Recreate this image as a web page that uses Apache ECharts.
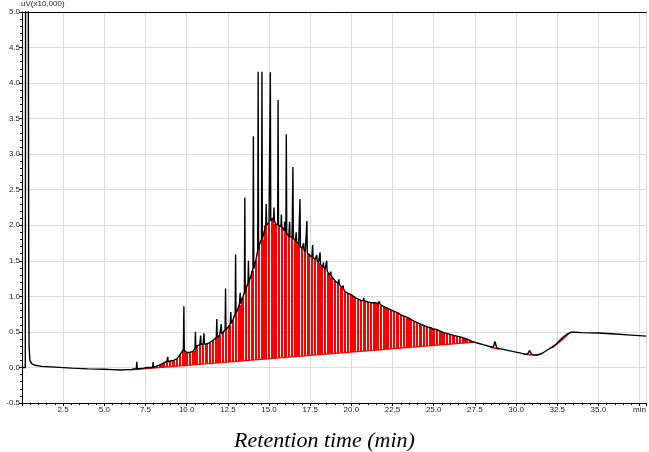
<!DOCTYPE html>
<html>
<head>
<meta charset="utf-8">
<script src="https://cdn.jsdelivr.net/npm/echarts@6/dist/echarts.min.js"></script>
<style>
html,body{margin:0;padding:0;background:#fff;}
#c{width:649px;height:452px;}
</style>
</head>
<body>
<div id="c"></div>
<script>
// ---- data (retention time in min, signal in uV x10,000) ----
const xTicks = [0, 2.5, 5.0, 7.5, 10.0, 12.5, 15.0, 17.5, 20.0, 22.5, 25.0, 27.5, 30.0, 32.5, 35.0, 37.5];
const yTicks = [-0.5, 0.0, 0.5, 1.0, 1.5, 2.0, 2.5, 3.0, 3.5, 4.0, 4.5, 5.0];

// trace before the hump (solvent peak + flat baseline)
const preTrace = [
  [0, 0.0], [0.2, 0.0], [0.22, 6.0], [0.38, 6.0], [0.41, 1.02], [0.43, 0.3],
  [0.48, 0.1], [0.6, 0.05], [0.8, 0.03], [1.2, 0.015], [2.0, 0.005], [3.0, -0.01],
  [4.0, -0.02], [5.0, -0.025], [5.5, -0.03], [6.0, -0.035], [6.4, -0.03]
];

// hump envelope (top of the red integrated area)
const hump = [
  [6.6,-0.03],[6.8,-0.02],[7.0,-0.02],[7.2,-0.015],[7.4,-0.01],[7.6,0.0],[7.8,0.0],
  [8.0,0.01],[8.2,0.02],[8.4,0.04],[8.6,0.06],[8.8,0.09],[9.0,0.09],[9.2,0.10],
  [9.4,0.12],[9.6,0.18],[9.8,0.25],[10.0,0.21],[10.2,0.21],[10.4,0.23],[10.6,0.30],
  [10.8,0.32],[11.0,0.33],[11.2,0.33],[11.4,0.35],[11.6,0.38],[11.8,0.42],[12.0,0.45],
  [12.2,0.49],[12.4,0.54],[12.6,0.59],[12.8,0.66],[13.0,0.78],[13.2,0.88],[13.4,0.98],
  [13.6,1.10],[13.8,1.22],[14.0,1.36],[14.2,1.50],[14.4,1.72],[14.6,1.80],[14.8,2.00],
  [15.0,2.04],[15.2,2.10],[15.4,2.02],[15.6,2.00],[15.8,1.97],[16.0,1.90],[16.2,1.84],
  [16.4,1.83],[16.6,1.78],[16.8,1.72],[17.0,1.67],[17.2,1.62],[17.4,1.60],[17.6,1.55],
  [17.8,1.52],[18.0,1.47],[18.2,1.43],[18.4,1.38],[18.6,1.33],[18.8,1.27],[19.0,1.22],
  [19.2,1.18],[19.4,1.12],[19.6,1.07],[19.8,1.04],[20.0,1.02],[20.2,0.99],[20.4,0.95],
  [20.6,0.94],[20.8,0.94],[21.0,0.92],[21.2,0.91],[21.4,0.91],[21.6,0.90],[21.8,0.87],
  [22.0,0.85],[22.2,0.83],[22.4,0.81],[22.6,0.79],[22.8,0.77],[23.0,0.74],[23.2,0.72],
  [23.4,0.70],[23.6,0.68],[23.8,0.65],[24.0,0.63],[24.2,0.61],[24.4,0.59],[24.6,0.57],
  [24.8,0.56],[25.0,0.54],[25.2,0.53],[25.4,0.51],[25.6,0.49],[25.8,0.48],[26.0,0.465],
  [26.2,0.45],[26.4,0.44],[26.6,0.43],[26.8,0.415],[27.0,0.40],[27.2,0.38],[27.4,0.36]
];

// integration baseline of the hump (start, end)
const humpBaseline = [[6.6, -0.035], [27.5, 0.355]];

// sharp peaks: [time, foot level, apex]
const peaks = [
  [6.97,-0.02,0.08],[7.96,0.0,0.075],[8.85,0.08,0.15],[9.83,0.24,0.86],
  [10.53,0.27,0.50],[10.85,0.32,0.45],[11.05,0.33,0.48],[11.83,0.42,0.68],
  [12.1,0.47,0.61],[12.36,0.53,1.11],[12.68,0.62,0.78],[12.97,0.76,1.59],
  [13.25,0.90,1.05],[13.53,1.05,2.39],[13.75,1.19,1.5],[14.05,1.39,3.25],
  [14.34,1.65,4.16],[14.57,1.80,4.16],[14.83,2.0,2.3],[15.08,2.06,4.15],
  [15.3,2.06,2.25],[15.55,2.0,3.76],[15.75,1.98,2.15],[15.95,1.92,2.05],
  [16.05,1.89,3.28],[16.25,1.84,2.05],[16.45,1.82,2.82],[16.65,1.77,1.9],
  [16.88,1.70,2.37],[17.1,1.65,1.75],[17.3,1.61,2.06],[17.65,1.54,1.72],
  [17.9,1.50,1.58],[18.1,1.45,1.62],[18.3,1.41,1.48],[18.5,1.36,1.5],
  [18.75,1.29,1.35],[19.24,1.17,1.24],[19.5,1.10,1.15],[19.9,1.03,1.06],
  [20.3,0.97,1.0],[20.75,0.94,0.98],[21.7,0.89,0.93],[22.1,0.84,0.86],
  [23.3,0.71,0.73]
];

// trace after the hump
const postTrace = [
  [27.7,0.34],[28.0,0.32],[28.4,0.295],[28.62,0.285],[28.72,0.365],[28.82,0.28],
  [29.0,0.265],[29.5,0.24],[30.0,0.215],[30.5,0.19],[30.7,0.185],[30.82,0.24],
  [30.95,0.18],[31.3,0.175],[31.6,0.2],[31.9,0.245],[32.2,0.29],[32.45,0.33],
  [32.6,0.37],[32.7,0.38],[32.85,0.425],[33.1,0.47],[33.35,0.495],[33.6,0.495],
  [34.0,0.49],[35.0,0.485],[36.0,0.47],[37.0,0.455],[37.9,0.44]
];

// small integration baselines of late peaks
const smallBase1 = [[28.45,0.285],[29.0,0.255]];
const smallBase2 = [[30.45,0.185],[31.3,0.172]];
const smallBase3 = [[32.2,0.28],[32.7,0.37],[33.2,0.475]];

// ---- build trace ----
const peakPts = [];
peaks.forEach(p => { peakPts.push([p[0]-0.025, p[1]], [p[0], p[2]], [p[0]+0.025, p[1]]); });
const mid = hump.concat(peakPts).sort((a,b)=>a[0]-b[0]);
const trace = preTrace.concat(mid, postTrace);

const chart = echarts.init(document.getElementById('c'), null, {renderer:'canvas'});
const txt = {color:'#222', fontSize:8, fontFamily:'Liberation Sans, Arial, sans-serif'};

chart.setOption({
  animation: false,
  backgroundColor: '#fff',
  title: {
    text: 'Retention time (min)', left: 'center', top: 425,
    textStyle: {fontFamily:'Liberation Serif, Times New Roman, serif', fontStyle:'italic', fontWeight:'normal', fontSize:22, color:'#000'}
  },
  grid: {left:22, right:0, top:11, bottom:49, containLabel:false},
  xAxis: [{
    type:'value', min:0, max:37.9, interval:2.5,
    axisLine:{show:true, onZero:false, lineStyle:{color:'#000', width:1}},
    axisTick:{show:true, length:3, lineStyle:{color:'#000'}},
    minorTick:{show:true, splitNumber:5, length:2, lineStyle:{color:'#000'}},
    splitLine:{show:true, lineStyle:{color:'#dadada', width:1}},
    axisLabel:{...txt, margin:3, showMaxLabel:false,
      formatter: v => { if (v === 0) return ''; if (Math.abs(v-37.5)<1e-6) return 'min'; return xTicks.indexOf(v) >= 0 ? v.toFixed(1) : ''; }}
  }, {
    type:'value', position:'top', min:0, max:37.9,
    axisLine:{show:true, onZero:false, lineStyle:{color:'#000', width:1}},
    axisTick:{show:false}, axisLabel:{show:false}, splitLine:{show:false}
  }],
  yAxis: {
    type:'value', min:-0.5, max:5.0, interval:0.5,
    name:'uV(x10,000)', nameLocation:'end', nameGap:0,
    nameTextStyle:{...txt, align:'left', verticalAlign:'bottom', padding:[0,0,-3,-1]},
    axisLine:{show:true, onZero:false, lineStyle:{color:'#000', width:1}},
    axisTick:{show:true, length:3, lineStyle:{color:'#000'}},
    minorTick:{show:true, splitNumber:5, length:2, lineStyle:{color:'#000'}},
    splitLine:{show:true, lineStyle:{color:'#dadada', width:1}},
    axisLabel:{...txt, margin:2, formatter: v => yTicks.indexOf(Math.round(v*10)/10) >= 0 ? v.toFixed(1) : ''}
  },
  series: [
    {
      type:'custom', data: hump, clip:true, silent:true, z:2,
      renderItem: function(params, api) {
        const p = api.coord([api.value(0), api.value(1)]);
        const b0 = api.coord(humpBaseline[0]);
        const b1 = api.coord(humpBaseline[1]);
        const f = (p[0]-b0[0])/(b1[0]-b0[0]);
        const yb = b0[1] + f*(b1[1]-b0[1]);
        const w = api.size([0.15, 0])[0];
        const x0 = Math.round(p[0]-w/2), x1 = Math.round(p[0]+w/2);
        if (yb - p[1] <= 0) return null;
        return {type:'rect', shape:{x:x0, y:p[1], width:Math.max(1,x1-x0), height:yb-p[1]},
                style:{fill:'#ff0000'}};
      }
    },
    {type:'line', data: humpBaseline, showSymbol:false, z:3, lineStyle:{color:'#ff0000', width:1.2}},
    {type:'line', data: smallBase1, showSymbol:false, z:3, lineStyle:{color:'#ff0000', width:1.5}},
    {type:'line', data: smallBase2, showSymbol:false, z:3, lineStyle:{color:'#ff0000', width:1.5}},
    {type:'line', data: smallBase3, showSymbol:false, z:3, lineStyle:{color:'#ff0000', width:1.5}},
    {type:'line', data: trace, showSymbol:false, clip:true, z:4, lineStyle:{color:'#000', width:1.4}}
  ]
});
</script>
</body>
</html>
